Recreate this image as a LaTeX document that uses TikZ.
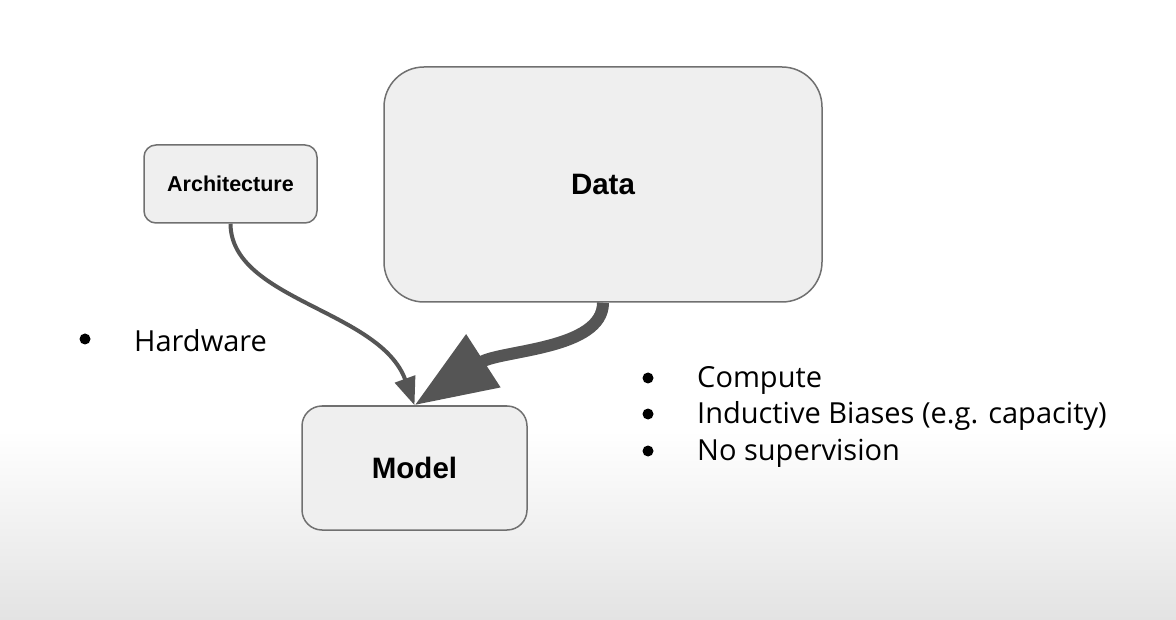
\documentclass[tikz,border=0pt]{standalone}
\usepackage{fontspec}
\setmainfont{Liberation Sans}
\newfontfamily\listfont{Open Sans}
\usetikzlibrary{arrows.meta,shadings}
\definecolor{boxfill}{HTML}{EFEFEF}
\definecolor{boxline}{HTML}{707070}
\definecolor{arrowcol}{HTML}{555555}
\definecolor{bottomgray}{HTML}{E3E3E3}
\tikzset{
  box/.style={draw=boxline, line width=1.5pt, fill=boxfill, rectangle, inner sep=0pt},
  listitem/.style={anchor=west, inner sep=0pt, font=\listfont\fontsize{29}{33}\selectfont, text=black},
  bulletdot/.style={fill=black, circle, inner sep=0pt, minimum size=11pt},
  thinarrow/.style={draw=arrowcol, line width=4pt, -{Triangle[length=28pt,width=21pt]}},
  thickarrow/.style={draw=arrowcol, line width=12pt, -{Triangle[length=82pt,width=60pt]}}
}
\begin{document}
\begin{tikzpicture}[x=1pt,y=-1pt]
\useasboundingbox (0,0) rectangle (1176,620);
\shade[top color=white, bottom color=bottomgray] (0,430) rectangle (1176,620);
\node[box, rounded corners=12pt, minimum width=173pt, minimum height=78pt, font=\bfseries\fontsize{21.5}{24}\selectfont] (arch) at (230.5,184) {Architecture};
\node[box, rounded corners=40pt, minimum width=438pt, minimum height=235pt, font=\bfseries\fontsize{29.5}{32}\selectfont] (data) at (603,184.5) {Data};
\node[box, rounded corners=20pt, minimum width=225pt, minimum height=124pt, font=\bfseries\fontsize{29.5}{32}\selectfont] (model) at (414.5,468) {Model};
\draw[thinarrow] (arch.south) .. controls (231,300) and (380,310) .. (model.north);
\draw[thickarrow] (data.south) .. controls (603,350) and (500,350) .. (model.north);
\node[bulletdot] (b0) at (85,339) {};
\node[listitem] (hw) at (134,341) {Hardware};
\node[bulletdot] (b1) at (648,378) {};
\node[listitem] (l1) at (697,380) {Compute};
\node[bulletdot] (b2) at (648,414) {};
\node[listitem] (l2) at (697,416) {Inductive Biases (e.g. capacity)};
\node[bulletdot] (b3) at (648,451) {};
\node[listitem] (l3) at (697,453) {No supervision};
\end{tikzpicture}
\end{document}
